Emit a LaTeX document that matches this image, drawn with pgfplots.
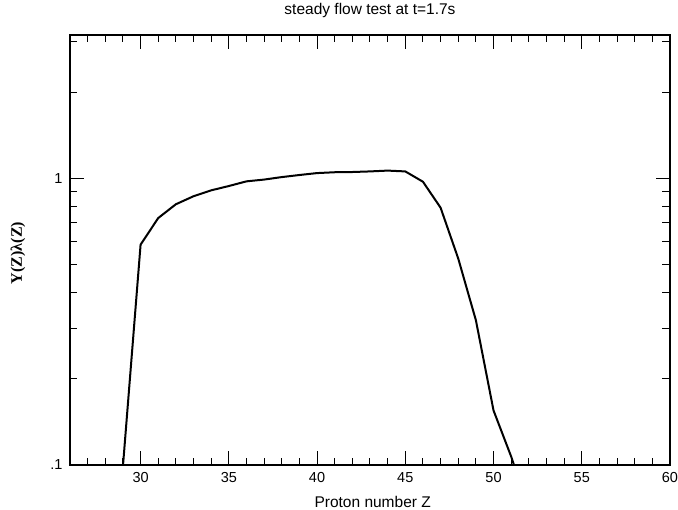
\documentclass[border=0pt]{standalone}
\usepackage{fontspec}
\setmainfont{Liberation Sans}
\newfontfamily\seriffont{Liberation Serif}
\usepackage{pgfplots}
\pgfplotsset{compat=1.18}
\newcommand{\fs}{\fontsize{15.5}{18}\selectfont}
\newcommand{\fst}{\fontsize{14.5}{17}\selectfont}
\begin{document}
\begin{tikzpicture}
\path[use as bounding box] (-70pt,-45pt) rectangle (608pt,465pt);
\begin{axis}[
  at={(0pt,0pt)}, anchor=south west,
  scale only axis, width=600pt, height=430pt,
  ymode=log,
  xmin=26, xmax=60,
  ymin=0.1, ymax=3.1623,
  xtick={30,35,40,45,50,55,60},
  minor xtick={27,28,29,31,32,33,34,36,37,38,39,41,42,43,44,46,47,48,49,51,52,53,54,56,57,58,59},
  ytick={0.1,1},
  yticklabels={.1,1},
  minor ytick={0.2,0.3,0.4,0.5,0.6,0.7,0.8,0.9,2,3},
  tick pos=both,
  tick align=inside,
  xticklabel pos=left, yticklabel pos=left,
  major tick length=14pt, minor tick length=7.5pt,
  every tick/.style={black, line width=1pt},
  axis line style={line width=1.1pt},
  /pgf/number format/assume math mode=true,
  tick label style={font=\fst},
  xticklabel style={yshift=-4pt},
  yticklabel style={xshift=-4pt},
  title={steady flow test at t=1.7s},
  title style={font=\fs, at={(axis description cs:0.5,1.0337)}, anchor=base},
  xlabel={Proton number Z},
  xlabel style={font=\fs, inner sep=0pt, at={(axis description cs:0.5045,-0.0977)}, anchor=base},
  ylabel={Y(Z)λ(Z)},
  ylabel style={font=\seriffont\bfseries\fontsize{16}{19}\selectfont, inner sep=0pt, at={(axis description cs:-0.0867,0.493)}, anchor=center},
]
\addplot[black, line width=2pt, line join=round] coordinates {
(29,0.099) (30,0.587) (31,0.727) (32,0.812) (33,0.866) (34,0.908)
(35,0.94) (36,0.976) (37,0.99) (38,1.01) (39,1.027) (40,1.043)
(41,1.05) (42,1.052) (43,1.057) (44,1.064) (45,1.057) (46,0.973)
(47,0.79) (48,0.525) (49,0.32) (50,0.155) (51,0.107) (52,0.07)
};
\end{axis}
\end{tikzpicture}
\end{document}
